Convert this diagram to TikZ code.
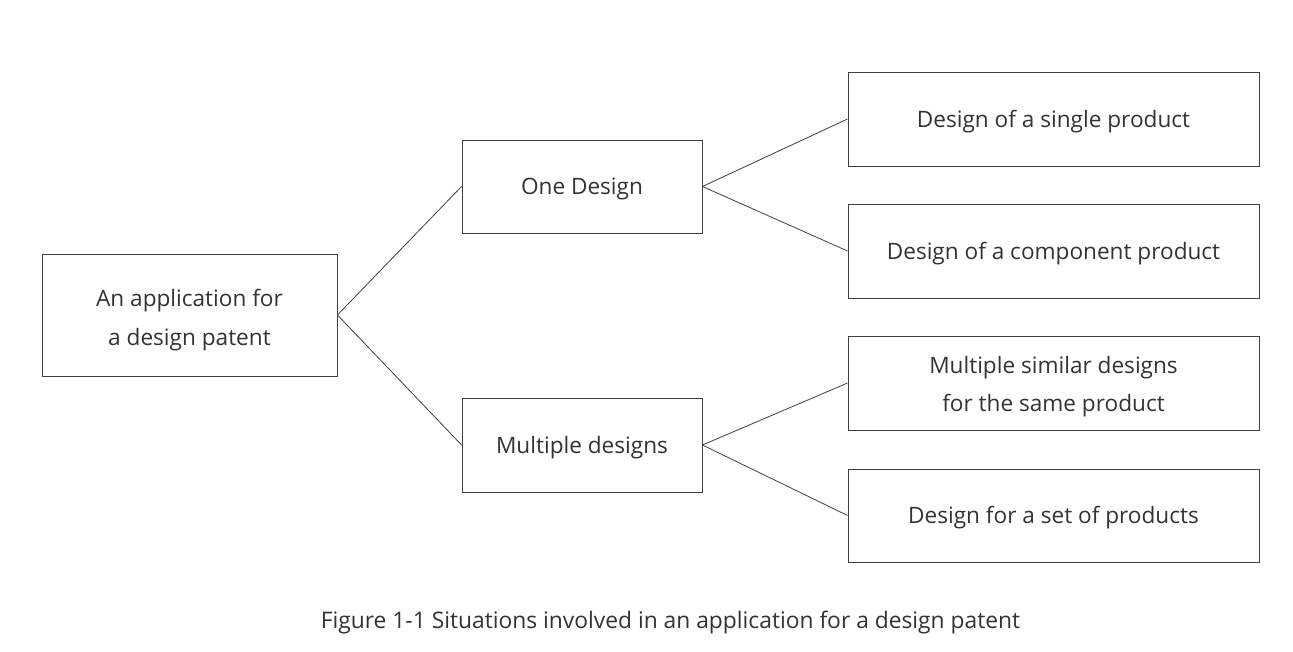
\documentclass[tikz,border=0pt]{standalone}
\usepackage{fontspec}
\setmainfont{Open Sans}
\definecolor{txt}{HTML}{333333}
\definecolor{ln}{HTML}{404040}
\newcommand{\boxtext}[2][-0.5pt]{\raisebox{#1}[\height][\depth]{\begin{tabular}{@{}c@{}}#2\end{tabular}}}
\begin{document}
\begin{tikzpicture}[x=1pt,y=-1pt,
  box/.style={draw=ln,line width=0.9pt,inner sep=0pt,align=center,text=txt,font=\fontsize{22.6}{39}\selectfont},
  conn/.style={draw=ln,line width=0.8pt}]
\useasboundingbox[fill=white] (0,0) rectangle (1293,652);
\node[box,minimum width=295pt,minimum height=122pt] (root) at (189.5,315) {\boxtext[-3.5pt]{An application for\\a design patent}};
\node[box,minimum width=240pt,minimum height=93pt] (one) at (582,186.5) {\boxtext{One Design}};
\node[box,minimum width=240pt,minimum height=94pt] (multi) at (582,445) {\boxtext{Multiple designs}};
\node[box,minimum width=411pt,minimum height=94pt] (a) at (1053.5,119) {\boxtext{Design of a single product}};
\node[box,minimum width=411pt,minimum height=94pt] (b) at (1053.5,251) {\boxtext{Design of a component product}};
\node[box,minimum width=411pt,minimum height=94pt,font=\fontsize{22.6}{38}\selectfont] (c) at (1053.5,383) {\boxtext[-1.5pt]{Multiple similar designs\\for the same product}};
\node[box,minimum width=411pt,minimum height=93pt] (d) at (1053.5,515.5) {\boxtext{Design for a set of products}};
\node[text=txt,font=\fontsize{22.8}{28}\selectfont] (cap) at (670.5,623) {Figure 1-1 Situations involved in an application for a design patent};
\draw[conn] (root.east) -- (one.west);
\draw[conn] (root.east) -- (multi.west);
\draw[conn] (one.east) -- (a.west);
\draw[conn] (one.east) -- (b.west);
\draw[conn] (multi.east) -- (c.west);
\draw[conn] (multi.east) -- (d.west);
\end{tikzpicture}
\end{document}
